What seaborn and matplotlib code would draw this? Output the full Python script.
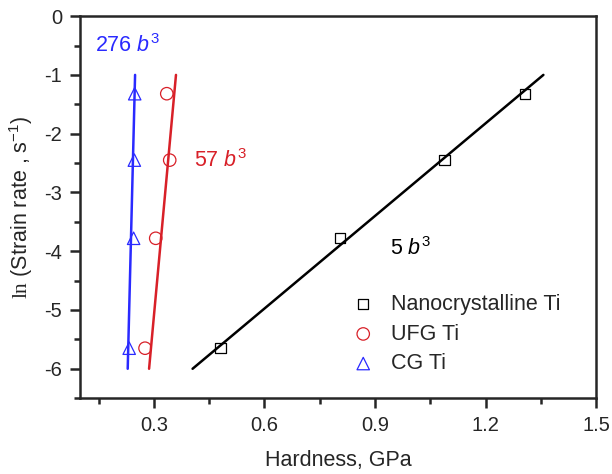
import matplotlib
matplotlib.use("Agg")
import matplotlib.pyplot as plt
import seaborn as sns
import pandas as pd
from matplotlib.ticker import MultipleLocator

# ---- data ----
ln_rate = [-5.65, -3.78, -2.45, -1.32]
nano_h = [0.481, 0.805, 1.089, 1.308]
ufg_h = [0.276, 0.305, 0.343, 0.335]
cg_h = [0.233, 0.245, 0.247, 0.248]

fit_y = [-6.0, -1.0]
nano_fit_x = [0.405, 1.357]
ufg_fit_x = [0.287, 0.360]
cg_fit_x = [0.229, 0.249]

series = ["Nanocrystalline Ti", "UFG Ti", "CG Ti"]
colors = ["#000000", "#d82028", "#2a2aff"]
markers = ["s", "o", "^"]
labels_txt = ["5 $\\mathit{b}^{\\mathsf{3}}$", "57 $\\mathit{b}^{\\mathsf{3}}$", "276 $\\mathit{b}^{\\mathsf{3}}$"]
label_pos = [(0.94, -3.95), (0.41, -2.45), (0.14, -0.5)]

sns.set_style("ticks")
plt.rcParams["font.family"] = ["Liberation Sans", "DejaVu Sans"]
plt.rcParams["mathtext.fontset"] = "custom"
plt.rcParams["mathtext.rm"] = "Liberation Serif"
plt.rcParams["mathtext.sf"] = "Liberation Sans"
plt.rcParams["mathtext.it"] = "Liberation Sans:italic"

fig = plt.figure(figsize=(6.12, 4.74), dpi=100)
ax = fig.add_axes([0.131, 0.160, 0.843, 0.806])

hs = [nano_h, ufg_h, cg_h]
fits = [nano_fit_x, ufg_fit_x, cg_fit_x]
for name, h, fx, c, m in zip(series, hs, fits, colors, markers):
    sns.lineplot(x=fx, y=fit_y, ax=ax, color=c, lw=1.8, sort=False, legend=False)
    df = pd.DataFrame({"h": h, "y": ln_rate})
    ax.scatter(df["h"], df["y"], marker=m, s=80 if m != "s" else 55,
               facecolors="none", edgecolors=c, linewidths=0.9, label=name, zorder=3)

for t, (x, y), c in zip(labels_txt, label_pos, colors):
    ax.text(x, y, t, color=c, fontsize=15.5, ha="left", va="center")

ax.set_xlim(0.1, 1.5)
ax.set_ylim(-6.5, 0)
ax.xaxis.set_minor_locator(MultipleLocator(0.15))
ax.yaxis.set_minor_locator(MultipleLocator(0.5))
ax.set_xticks([0.3, 0.6, 0.9, 1.2, 1.5])
ax.set_xticklabels(["0.3", "0.6", "0.9", "1.2", "1.5"])
ax.set_yticks([0, -1, -2, -3, -4, -5, -6])
ax.set_yticklabels(["0", "-1", "-2", "-3", "-4", "-5", "-6"])
ax.tick_params(which="major", direction="out", length=7, width=1.8, labelsize=14.5, pad=6)
ax.tick_params(which="minor", direction="out", length=4, width=1.8)
for s in ax.spines.values():
    s.set_linewidth(1.8)

ax.set_xlabel("Hardness, GPa", fontsize=15.5, labelpad=11)
ax.set_ylabel("$\\mathrm{ln}$ (Strain rate , s$^{\\mathsf{-1}}$)", fontsize=15.5, labelpad=7)

leg = ax.legend(loc="lower right", bbox_to_anchor=(0.969, 0.012), frameon=False,
                fontsize=15.5, handletextpad=0.3, labelspacing=0.4, markerscale=1.0)

fig.savefig("out.png", dpi=100)
